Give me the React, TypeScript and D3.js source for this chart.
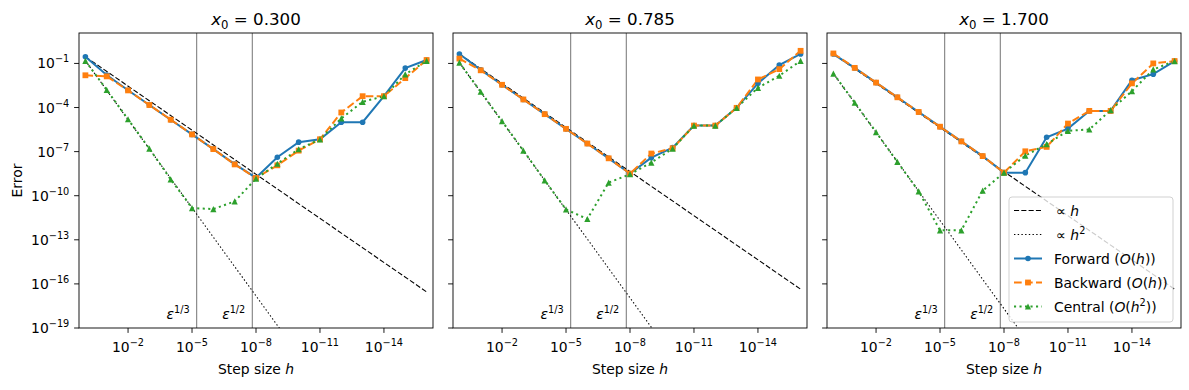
import React from 'react';
import * as d3 from 'd3';

// step sizes h = 10^0 ... 10^-16
const stepSizes = [1, 1e-1, 1e-2, 1e-3, 1e-4, 1e-5, 1e-6, 1e-7, 1e-8, 1e-9, 1e-10, 1e-11, 1e-12, 1e-13, 1e-14, 1e-15, 1e-16];

const panelTitles = ['0.300', '0.785', '1.700'];

// x0 = 0.300
const forwardA = [2.87e-1, 1.64e-2, 1.49e-3, 1.48e-4, 1.48e-5, 1.48e-6, 1.48e-7, 1.4e-8, 1.66e-9, 4.1e-8, 4.4e-7, 6.9e-7, 1.0e-5, 1.0e-5, 5.9e-4, 4.8e-2, 1.7e-1];
const backwardA = [1.56e-2, 1.32e-2, 1.46e-3, 1.48e-4, 1.48e-5, 1.48e-6, 1.48e-7, 1.35e-8, 1.6e-9, 1.17e-8, 1.17e-7, 6.9e-7, 4.6e-5, 5.9e-4, 5.9e-4, 1.0e-2, 1.7e-1];
const centralA = [1.51e-1, 1.59e-3, 1.59e-5, 1.59e-7, 1.3e-9, 1.45e-11, 1.23e-11, 4.1e-11, 1.45e-9, 1.5e-8, 1.45e-7, 6.9e-7, 1.8e-5, 2.45e-4, 5.9e-4, 1.8e-2, 1.5e-1];

// x0 = 0.785
const forwardB = [4.37e-1, 3.65e-2, 3.55e-3, 3.54e-4, 3.54e-5, 3.54e-6, 3.54e-7, 3.5e-8, 3.2e-9, 3.9e-8, 1.86e-7, 5.9e-6, 5.9e-6, 9.5e-5, 4.4e-3, 7.8e-2, 4.4e-1];
const backwardB = [2.13e-1, 3.41e-2, 3.52e-3, 3.54e-4, 3.54e-5, 3.54e-6, 3.54e-7, 3.5e-8, 3.2e-9, 7.4e-8, 1.7e-7, 5.9e-6, 5.9e-6, 9.5e-5, 8.1e-3, 4.1e-2, 7.2e-1];
const centralB = [1.12e-1, 1.18e-3, 1.18e-5, 1.18e-7, 1.1e-9, 1.17e-11, 2.6e-12, 7.8e-10, 2.9e-9, 1.8e-8, 1.6e-7, 5.9e-6, 5.9e-6, 9.5e-5, 2.2e-3, 1.45e-2, 1.5e-1];

// x0 = 1.700
const forwardC = [4.35e-1, 4.94e-2, 4.96e-3, 4.96e-4, 4.96e-5, 4.96e-6, 4.96e-7, 4.96e-8, 3.7e-9, 3.7e-9, 9.5e-7, 3.7e-6, 5.9e-5, 5.9e-5, 7.2e-3, 1.86e-2, 1.45e-1];
const backwardC = [4.76e-1, 4.98e-2, 4.96e-3, 4.96e-4, 4.96e-5, 4.96e-6, 4.96e-7, 4.96e-8, 3.7e-9, 1.05e-7, 2.1e-7, 8.1e-6, 5.9e-5, 5.9e-5, 4.4e-3, 1.0e-1, 1.45e-1];
const centralC = [2.04e-2, 2.15e-4, 2.15e-6, 2.0e-8, 2.0e-10, 4.4e-13, 4.4e-13, 2.2e-10, 3.7e-9, 5.4e-8, 3.2e-7, 2.6e-6, 3.2e-6, 6.6e-5, 1.3e-3, 3.9e-2, 1.45e-1];

const forwardSets = [forwardA, forwardB, forwardC];
const backwardSets = [backwardA, backwardB, backwardC];
const centralSets = [centralA, centralB, centralC];

const xTicks = [1e-2, 1e-5, 1e-8, 1e-11, 1e-14];
const xTickExps = ['\u22122', '\u22125', '\u22128', '\u221211', '\u221214'];
const yTicks = [1e-1, 1e-4, 1e-7, 1e-10, 1e-13, 1e-16, 1e-19];
const yTickExps = ['\u22121', '\u22124', '\u22127', '\u221210', '\u221213', '\u221216', '\u221219'];

// eps^(1/3), eps^(1/2) for float64
const epsMarks = [6.06e-6, 1.49e-8];
const epsLabels = ['1/3', '1/2'];

const BLUE = '#1f77b4';
const ORANGE = '#ff7f0e';
const GREEN = '#2ca02c';
const FONT = 'DejaVu Sans, sans-serif';

const W = 1189;
const H = 390;
const panelLefts = [79, 453, 827];
const panelW = 354;
const top = 33;
const bottom = 328;
const FS = 13.9;

const y = d3.scaleLog().domain([1e-19, Math.pow(10, 1.07)]).range([bottom, top]);

function triPath(cx: number, cy: number, s: number) {
  const r = s / 2;
  return `M${cx},${cy - r}L${cx - r},${cy + r}L${cx + r},${cy + r}Z`;
}

function Markers({ pts, kind, color }: { pts: [number, number][]; kind: string; color: string }) {
  return (
    <g fill={color}>
      {pts.map(([px, py], i) => {
        if (kind === 'o') return <circle key={i} cx={px} cy={py} r={2.8} />;
        if (kind === 's') return <rect key={i} x={px - 2.9} y={py - 2.9} width={5.8} height={5.8} />;
        return <path key={i} d={triPath(px, py, 6.2)} />;
      })}
    </g>
  );
}

function Panel({ idx }: { idx: number }) {
  const left = panelLefts[idx];
  const right = left + panelW;
  const x = d3.scaleLog().domain([Math.pow(10, 0.3), Math.pow(10, -16.3)]).range([left, right]);
  const fwd = forwardSets[idx];
  const bwd = backwardSets[idx];
  const cen = centralSets[idx];
  const line = d3.line<number>().x((_, i) => x(stepSizes[i])).y((d) => y(d));
  const refLine = d3.line<number>().x((h) => x(h)).y((h) => y(h));
  const h0 = stepSizes[0];
  const hN = stepSizes[stepSizes.length - 1];
  const dashedRef = d3.line<number>().x((h) => x(h)).y((h) => y(fwd[0] * (h / h0)));
  const dottedRef = d3.line<number>().x((h) => x(h)).y((h) => y(cen[0] * (h / h0) * (h / h0)));
  const clipId = `clip${idx}`;
  const series = [
    { data: fwd, color: BLUE, dash: undefined, kind: 'o' },
    { data: bwd, color: ORANGE, dash: '7.7,3.3', kind: 's' },
    { data: cen, color: GREEN, dash: '2.1,3.4', kind: '^' },
  ];
  void refLine;
  return (
    <g>
      <defs>
        <clipPath id={clipId}>
          <rect x={left} y={top} width={panelW} height={bottom - top} />
        </clipPath>
      </defs>
      <text x={(left + right) / 2} y={25} textAnchor="middle" fontSize={16.7}>
        <tspan fontStyle="italic">x</tspan>
        <tspan fontSize={11.7} dy={3.5}>0</tspan>
        <tspan dy={-3.5}>{' = ' + panelTitles[idx]}</tspan>
      </text>
      <g clipPath={`url(#${clipId})`}>
        {epsMarks.map((e, i) => (
          <line key={i} x1={x(e)} x2={x(e)} y1={top} y2={bottom} stroke="#808080" strokeWidth={1.1} />
        ))}
        <path d={dashedRef([h0, hN]) || ''} fill="none" stroke="#000" strokeWidth={1.1} strokeDasharray="5.1,2.2" />
        <path d={dottedRef([h0, 1e-4, 1e-8, 1e-12, hN]) || ''} fill="none" stroke="#000" strokeWidth={1.1} strokeDasharray="1.4,2.3" />
        {series.map((s, i) => (
          <path key={i} d={line(s.data) || ''} fill="none" stroke={s.color} strokeWidth={2} strokeDasharray={s.dash} />
        ))}
      </g>
      {series.map((s, i) => (
        <Markers key={i} kind={s.kind} color={s.color} pts={s.data.map((d, j) => [x(stepSizes[j]), y(d)] as [number, number])} />
      ))}
      {epsMarks.map((e, i) => (
        <text key={i} x={x(e) - 7} y={319} textAnchor="end" fontSize={FS}>
          <tspan fontStyle="italic">ε</tspan>
          <tspan fontSize={FS * 0.7} dy={-6}>{epsLabels[i]}</tspan>
        </text>
      ))}
      <rect x={left} y={top} width={panelW} height={bottom - top} fill="none" stroke="#000" strokeWidth={0.9} />
      {xTicks.map((t, i) => (
        <g key={i}>
          <line x1={x(t)} x2={x(t)} y1={bottom} y2={bottom + 4.9} stroke="#000" strokeWidth={0.9} />
          <text x={x(t)} y={352} textAnchor="middle" fontSize={FS}>
            10<tspan fontSize={FS * 0.7} dy={-6}>{xTickExps[i]}</tspan>
          </text>
        </g>
      ))}
      {yTicks.map((t, i) => (
        <g key={i}>
          <line x1={left - 4.9} x2={left} y1={y(t)} y2={y(t)} stroke="#000" strokeWidth={0.9} />
          {idx === 0 && (
            <text x={left - 9.7} y={y(t) + 5} textAnchor="end" fontSize={FS}>
              10<tspan fontSize={FS * 0.7} dy={-6}>{yTickExps[i]}</tspan>
            </text>
          )}
        </g>
      ))}
      <text x={(left + right) / 2} y={374} textAnchor="middle" fontSize={FS}>
        Step size <tspan fontStyle="italic">h</tspan>
      </text>
    </g>
  );
}

function Legend() {
  const lx = 1009;
  const ly = 197;
  const rows = [
    { label: [['\u221d ', false], ['h', true]], color: '#000', dash: '5.1,2.2', kind: '', sw: 1.1 },
    { label: [['\u221d ', false], ['h', true], ['2', false, true]], color: '#000', dash: '1.4,2.3', kind: '', sw: 1.1 },
    { label: [['Forward (', false], ['O', true], ['(', false], ['h', true], ['))', false]], color: BLUE, dash: undefined, kind: 'o', sw: 2 },
    { label: [['Backward (', false], ['O', true], ['(', false], ['h', true], ['))', false]], color: ORANGE, dash: '7.7,3.3', kind: 's', sw: 2 },
    { label: [['Central (', false], ['O', true], ['(', false], ['h', true], ['2', false, true], ['))', false]], color: GREEN, dash: '2.1,3.4', kind: '^', sw: 2 },
  ];
  return (
    <g>
      <rect x={lx} y={ly} width={164} height={125} rx={3} fill="#fff" fillOpacity={0.8} stroke="#cccccc" strokeWidth={0.9} />
      {rows.map((r, i) => {
        const cy = 210.5 + i * 24;
        return (
          <g key={i}>
            <line x1={1014} x2={1042} y1={cy} y2={cy} stroke={r.color} strokeWidth={r.sw} strokeDasharray={r.dash} />
            {r.kind && <Markers kind={r.kind} color={r.color} pts={[[1028, cy]]} />}
            <text x={i < 2 ? 1056 : 1054} y={cy + 5} fontSize={FS}>
              {r.label.map((p, j) => {
                const [txt, ital, sup] = p as [string, boolean, boolean?];
                if (sup) return <tspan key={j} fontSize={FS * 0.7} dy={-6}>{txt}</tspan>;
                const prevSup = j > 0 && (r.label[j - 1] as any)[2];
                return (
                  <tspan key={j} fontStyle={ital ? 'italic' : 'normal'} dy={prevSup ? 6 : undefined}>{txt}</tspan>
                );
              })}
            </text>
          </g>
        );
      })}
    </g>
  );
}

export default function App() {
  return (
    <svg width={W} height={H} viewBox={`0 0 ${W} ${H}`} fontFamily={FONT}
      style={{ position: 'absolute', left: 0, top: 0, background: '#fff' }}>
      <rect x={0} y={0} width={W} height={H} fill="#fff" />
      {[0, 1, 2].map((i) => (
        <Panel key={i} idx={i} />
      ))}
      <text transform="translate(22,180.5) rotate(-90)" textAnchor="middle" fontSize={FS}>Error</text>
      <Legend />
    </svg>
  );
}
